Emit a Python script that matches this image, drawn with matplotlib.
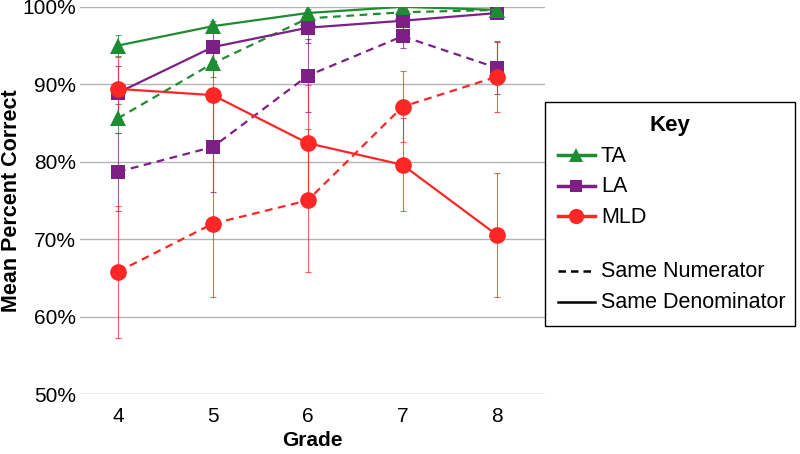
import matplotlib
matplotlib.use('Agg')
import matplotlib.pyplot as plt
from matplotlib.lines import Line2D
from matplotlib.ticker import FuncFormatter

plt.rcParams['font.family'] = ['Liberation Sans', 'DejaVu Sans']

grades = [4, 5, 6, 7, 8]

# mean percent correct, solid = same denominator, dashed = same numerator
ta_den = [95.0, 97.5, 99.2, 100.0, 99.6]
ta_den_err = [1.4, 0.7, 0.5, 0.3, 0.3]
ta_num = [85.6, 92.7, 98.5, 99.3, 99.6]
ta_num_err = [1.9, 1.8, 1.0, 0.6, 0.3]

la_den = [88.9, 94.8, 97.3, 98.2, 99.2]
la_den_err = [3.5, 3.0, 2.0, 1.5, 0.6]
la_num = [78.7, 81.9, 91.1, 96.2, 92.1]
la_num_err = [5.0, 5.8, 4.7, 1.5, 3.3]

mld_den = [89.4, 88.6, 82.4, 79.6, 70.5]
mld_den_err = [4.1, 6.0, 7.5, 6.0, 8.0]
mld_num = [65.8, 72.0, 75.0, 87.1, 91.0]
mld_num_err = [8.5, 9.5, 9.2, 4.6, 4.6]

GREEN = '#1e8c32'
PURPLE = '#7e1f86'
RED = '#ff2626'

fig = plt.figure(figsize=(8, 4.54), dpi=100)
ax = fig.add_axes([0.1, 0.132, 0.581, 0.853])

series = [
    (la_num, la_num_err, PURPLE, 's', 10, (0, (3.5, 2.5))),
    (mld_num, mld_num_err, RED, 'o', 12, (0, (3.5, 2.5))),
    (ta_num, ta_num_err, GREEN, '^', 11, (0, (3.5, 2.5))),
    (la_den, la_den_err, PURPLE, 's', 10, '-'),
    (mld_den, mld_den_err, RED, 'o', 12, '-'),
    (ta_den, ta_den_err, GREEN, '^', 11, '-'),
]

for vals, err, col, mk, ms, ls in series:
    ax.errorbar(grades, vals, yerr=err, fmt='none', ecolor=col, elinewidth=0.8,
                capsize=2.5, capthick=0.8, alpha=0.75, zorder=2)
    ax.plot(grades, vals, color=col, linestyle=ls, linewidth=1.6, marker=mk,
            markersize=ms, markeredgewidth=0, zorder=3)

ax.set_xlim(3.6, 8.5)
ax.set_ylim(50, 100)
ax.set_xticks(grades)
ax.set_yticks([50, 60, 70, 80, 90, 100])
ax.yaxis.set_major_formatter(FuncFormatter(lambda v, p: f'{v:.0f}%'))
ax.tick_params(length=0, labelsize=15)
ax.tick_params(axis='x', pad=9)
ax.tick_params(axis='y', pad=3)
ax.grid(axis='y', color='#b3b3b3', linewidth=1)
ax.set_axisbelow(True)
for s in ax.spines.values():
    s.set_visible(False)
ax.set_xlabel('Grade', fontsize=15, fontweight='bold', labelpad=4)
ax.set_ylabel('Mean Percent Correct', fontsize=15.5, fontweight='bold', labelpad=0)

handles = [
    Line2D([], [], color=GREEN, marker='^', markersize=10, lw=2.5, markeredgewidth=0, label='TA'),
    Line2D([], [], color=PURPLE, marker='s', markersize=9, lw=2.5, markeredgewidth=0, label='LA'),
    Line2D([], [], color=RED, marker='o', markersize=11, lw=2.5, markeredgewidth=0, label='MLD'),
    Line2D([], [], color='none', label=' '),
    Line2D([], [], color='black', linestyle=(0, (3, 2)), lw=1.8, label='Same Numerator'),
    Line2D([], [], color='black', lw=1.8, label='Same Denominator'),
]
leg = fig.legend(handles=handles, loc='upper left',
                 bbox_to_anchor=(545 / 800, 1 - 327 / 454, 250 / 800, 225 / 454),
                 mode='expand', borderaxespad=0, fontsize=15.5, title='Key',
                 title_fontproperties={'weight': 'bold', 'size': 16},
                 fancybox=False, edgecolor='black', framealpha=1,
                 handlelength=1.7, handletextpad=0.3, labelspacing=0.45,
                 handleheight=0.4, borderpad=0.6)
leg.get_frame().set_linewidth(1.0)
# spacer row between the group key and the line-style key
leg.get_texts()[3].set_fontsize(2)

fig.savefig('out.png', dpi=100)
